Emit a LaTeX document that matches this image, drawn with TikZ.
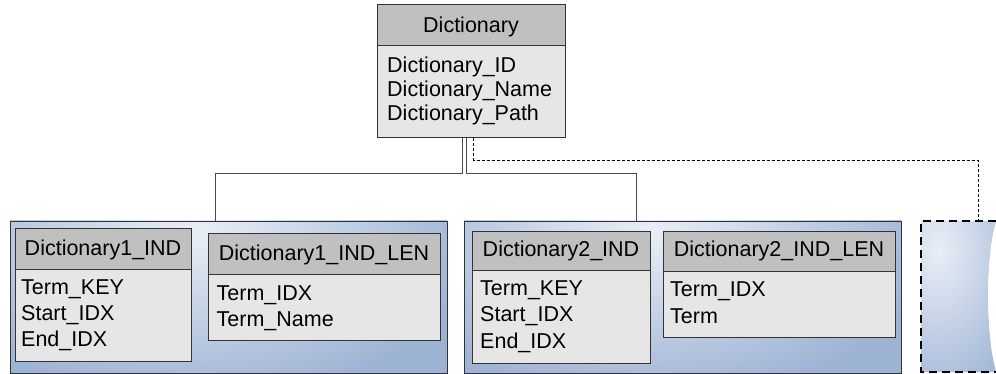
\documentclass[tikz,border=0pt]{standalone}
\usepackage{fontspec}
\setmainfont{Liberation Sans}
\newfontfamily\tabfontfam{Liberation Sans}
\newcommand{\tabfont}{\tabfontfam\fontsize{21.5}{25}\selectfont}
\definecolor{hdrgray}{HTML}{C0C0C0}
\definecolor{bodygray}{HTML}{E6E6E6}
\definecolor{bluedark}{HTML}{9DB3D4}
\definecolor{bluelight}{HTML}{E9EEF6}
\definecolor{connc}{HTML}{4A4A4A}
\definecolor{edgec}{HTML}{333333}
\tikzset{
  cell/.style={draw=edgec, line width=1.2pt, inner sep=0pt, anchor=north west},
  hdr/.style={cell, fill=hdrgray},
  bdy/.style={cell, fill=bodygray},
  outerbox/.style={draw=edgec, line width=1.2pt, inner sep=0pt, anchor=north west, minimum width=437pt, minimum height=152pt},
  htxt/.style={inner sep=0pt, anchor=base, font=\tabfont},
  btxt/.style={inner sep=0pt, anchor=base west, font=\tabfont},
  conn/.style={draw=connc, line width=1pt},
  dconn/.style={draw=black, line width=1pt, dash pattern=on 3pt off 2pt},
  dedge/.style={draw=black, line width=1.6pt, dash pattern=on 8pt off 5pt}
}
\begin{document}
\begin{tikzpicture}[x=1pt,y=-1pt]
\useasboundingbox (0,0) rectangle (996,374);

% ---- shaded backgrounds of the groups
\begin{scope}
  \clip (10,221) rectangle (447,373);
  \fill[bluedark] (10,221) rectangle (447,373);
  \shade[inner color=bluelight, outer color=bluedark] (195,232) ellipse (290 and 170);
\end{scope}
\begin{scope}
  \clip (464,221) rectangle (901,373);
  \fill[bluedark] (464,221) rectangle (901,373);
  \shade[inner color=bluelight, outer color=bluedark] (650,232) ellipse (290 and 170);
\end{scope}
\begin{scope}
  \clip (921,221) -- (996,221) .. controls (985,255) and (985,335) .. (996,372) -- (921,372) -- cycle;
  \fill[bluedark] (921,221) rectangle (996,372);
  \shade[inner color=bluelight, outer color=bluedark] (938,250) ellipse (100 and 160);
\end{scope}

% ---- group frames
\node[outerbox] (o1) at (10,221) {};
\node[outerbox] (o2) at (464,221) {};
\coordinate (o3top) at (978,221);
\draw[dedge] (996,221) -- (921,221) -- (921,372) -- (996,372);

% ---- Dictionary
\node[hdr, minimum width=188pt, minimum height=41pt] (d0h) at (377,4) {};
\node[bdy, minimum width=188pt, minimum height=92pt] (d0b) at (377,45) {};
\node[htxt] (d0t) at (471,32.5) {Dictionary};
\node[btxt] (d0a) at (387,72.3) {Dictionary\_ID};
\node[btxt] (d0c) at (387,96.7) {Dictionary\_Name};
\node[btxt] (d0d) at (387,121) {Dictionary\_Path};

% ---- Dictionary1_IND
\node[hdr, minimum width=176.5pt, minimum height=40.7pt] (t1h) at (14.5,228) {};
\node[bdy, minimum width=176.5pt, minimum height=92pt] (t1b) at (14.5,268.7) {};
\node[htxt] (t1t) at (103,255.5) {Dictionary1\_IND};
\node[btxt] (t1a) at (21,294.7) {Term\_KEY};
\node[btxt] (t1c) at (21,320.7) {Start\_IDX};
\node[btxt] (t1d) at (21,346.3) {End\_IDX};

% ---- Dictionary1_IND_LEN
\node[hdr, minimum width=232pt, minimum height=40.5pt] (t2h) at (208,233) {};
\node[bdy, minimum width=232pt, minimum height=66.5pt] (t2b) at (208,273.5) {};
\node[htxt] (t2t) at (324,260.7) {Dictionary1\_IND\_LEN};
\node[btxt] (t2a) at (216.5,300) {Term\_IDX};
\node[btxt] (t2c) at (216.5,326) {Term\_Name};

% ---- Dictionary2_IND
\node[hdr, minimum width=178pt, minimum height=39pt] (t3h) at (472,231) {};
\node[bdy, minimum width=178pt, minimum height=93pt] (t3b) at (472,270) {};
\node[htxt] (t3t) at (561,257) {Dictionary2\_IND};
\node[btxt] (t3a) at (480,295.7) {Term\_KEY};
\node[btxt] (t3c) at (480,321.7) {Start\_IDX};
\node[btxt] (t3d) at (480,348) {End\_IDX};

% ---- Dictionary2_IND_LEN
\node[hdr, minimum width=232pt, minimum height=40pt] (t4h) at (663,231) {};
\node[bdy, minimum width=232pt, minimum height=66pt] (t4b) at (663,271) {};
\node[htxt] (t4t) at (779,257) {Dictionary2\_IND\_LEN};
\node[btxt] (t4a) at (670,296.7) {Term\_IDX};
\node[btxt] (t4c) at (670,323) {Term};

% ---- connectors
\draw[conn] ([xshift=-9pt]d0b.south) -- ++(0,35) -| ([xshift=-13.5pt]o1.north);
\draw[conn] ([xshift=-5pt]d0b.south) -- ++(0,35) -| ([xshift=-46.5pt]o2.north);
\draw[dconn] ([xshift=2pt]d0b.south) -- ++(0,22) -| (o3top);
\end{tikzpicture}
\end{document}
